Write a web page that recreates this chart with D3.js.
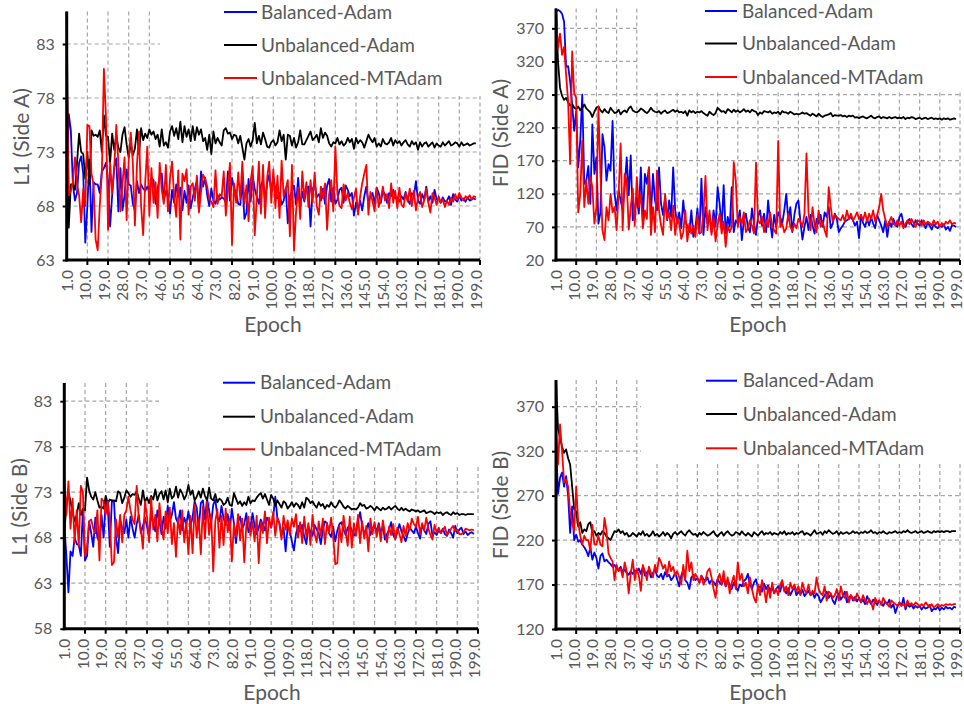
<!DOCTYPE html>
<html><head><meta charset="utf-8">
<script src="https://cdn.jsdelivr.net/npm/d3@7/dist/d3.min.js"></script>
<style>body{margin:0;background:#fff}svg{display:block}text{font-family:Lato,"Open Sans",sans-serif}</style>
</head><body>
<svg id="c" width="964" height="704"></svg>
<script>
// ---------- data ----------
const epochs = d3.range(1, 200);
const xTickValues = d3.range(1, 200, 9);
const xTickLabels = xTickValues.map(d => d.toFixed(1));
const seriesNames = ["Balanced-Adam", "Unbalanced-Adam", "Unbalanced-MTAdam"];
const seriesColors = ["#0000ff", "#000000", "#ff0000"];

const yTicksL1A = [63, 68, 73, 78, 83];
const yTicksFidA = [20, 70, 120, 170, 220, 270, 320, 370];
const yTicksL1B = [58, 63, 68, 73, 78, 83];
const yTicksFidB = [120, 170, 220, 270, 320, 370];

const l1A_bal = [69.5,76.5,75,70,68.5,69.2,72,72.6,71,64.6,
68,72.3,65.6,70.2,70,70,69.2,71.2,71.5,72,
70.3,66.1,69,71.6,72.4,67.5,71.5,67.6,69,71.4,
70,69.9,68.2,67.6,70.3,69.2,70,69.6,69.4,69.8,
69.3,70.6,70.4,68.2,69.6,70.7,71,68.5,69.4,68.8,
67.3,69.5,68.3,70,68.9,69.7,67.6,69.4,68.3,69.9,
67.8,68.8,69.6,70.3,67.6,71.2,69.8,70.6,69,68,
69.6,68.5,68.2,69,68.6,68.8,68.7,68.3,71.2,68.5,
70.6,69.6,69.2,68.2,68.1,70.4,66.8,67.4,70.5,68.4,
70.8,69.6,68.8,68.2,69.9,70.4,68.5,70.1,70.9,69.3,
70.7,69.5,68.7,69.2,68.1,68.5,69.6,66.4,68.9,69.4,
69.9,68.1,70.6,67.9,69.3,68.4,69.6,69.8,66.1,69.5,
70.1,68.8,69.1,68.5,69.6,68.2,69.9,70.5,68.4,69.7,
68.2,68.6,69.5,69.7,68.3,69.9,69.5,68.9,69.2,67.1,
68.3,67.6,68.5,67.6,68.9,69.8,68.3,68.9,69.2,68.2,
69.7,69.2,68.3,69.4,69.1,68.3,69.2,68.9,69.5,68.7,
68.8,68.4,68.9,68.6,69.3,68.6,68.2,69.2,68.9,70.3,
68.5,68.2,69.1,68.6,69.8,68.4,68.9,68.3,69.5,68.6,
68.7,68.3,68.8,68.4,68.5,68.9,68.1,69.1,68.6,68.4,
68.9,68.5,68.7,68.4,68.8,68.5,68.6,68.7,68.6];
const l1A_unbal = [86,66,70,70,69.5,72,74.7,73,72.8,70.5,
73,70,75,74.5,74.6,74.4,75,73,76.4,74.5,
74.4,72,74.7,73.2,74.5,73.4,73,74.6,75.3,73.7,
72.5,73.8,72.7,73.3,75.1,72.8,75.2,74.1,74.7,74.3,
75.1,74.6,74.9,74.2,74.6,73.5,75.1,73.6,73.9,73.4,
74.9,75.4,74.5,75.2,74.2,75.8,73.9,75.4,74.4,75.1,
74,75.4,74.1,75.3,74.6,75.1,74,74.3,73.2,74.6,
72.8,74.9,73.8,74.3,73.9,73.6,75,75.2,74.7,74.8,
74.2,74.6,74.5,73.8,74.5,73.4,72.3,73.8,74.2,73.5,
74.1,75.7,73.8,74.5,73.7,74.8,74.2,73.5,73.4,73.9,
74.1,73.6,73.9,75,74,74.6,72.3,74.6,74.5,73.6,
74.3,73.4,73.9,75,73.7,73.7,74.1,74.5,74.9,74.1,
74.3,74.6,73.9,75.2,74.3,74.8,74.5,73.8,73.5,73.9,
73.8,74.3,73.7,74,73.6,73.8,74.3,73.9,74.2,73.3,
74.3,73.8,74.1,73.9,73.4,74,74.6,74.2,73.9,74.3,
73.5,73.8,73.5,74.2,73.8,73.7,73.9,74.3,73.6,74.1,
73.8,74,73.6,73.9,74.1,73.7,73.5,74,73.7,73.9,
73.2,73.9,73.5,73.8,73.9,73.5,73.7,73.9,73.4,73.8,
73.6,73.5,73.9,73.6,73.8,74,73.6,73.7,73.9,73.8,
73.5,73.9,73.6,73.7,73.8,73.6,73.7,73.8,73.8];
const l1A_mt = [80.8,69,69.4,70.2,72.5,70,69,66.5,69.6,68,
75.5,75.4,71,70,64.9,63.9,68,71,80.7,76.2,
65.8,72,69.2,71.5,75.5,72,67.5,70.1,72.5,66.7,
72.3,74.8,72,66.2,71.8,74.9,68,65.3,70.2,73.5,
67.1,71.5,68.3,70.2,66.9,72,69.5,68.2,71.8,67.5,
70.6,72.1,68.8,67,71.3,64.9,71,70.3,71.4,67.2,
69.8,70.1,68.5,70.8,67.4,69.3,70.9,70.5,69.8,68.6,
68.4,67.9,71.3,68.2,69.1,68.9,71.2,67.1,69.5,72,
64.4,70.1,68.3,71.1,68.6,72.1,68.2,69.9,66.6,70.3,
71.7,65.3,68.8,72.1,67.3,71.8,66.9,70.6,72.1,68.3,
71.4,67.8,70.8,66.9,72.2,68.9,69.6,70.4,65.2,71.8,
63.9,67.5,69.7,66.8,71.2,68.6,70.2,67.9,70.4,68.3,
71.1,68,67.2,69.8,68.7,70.1,65.8,69.1,70.4,67.5,
73.5,69.1,68,67.8,70,68.5,69.2,68.3,67.7,68.8,
69.6,67.2,68.9,70.1,71,71.8,67.2,69.3,68.4,67.5,
69.7,67.9,68.6,69.8,68.5,69.1,67.8,70.1,68.3,69.4,
67.8,69.7,68.1,67.9,69.2,68.4,69.6,68,69.4,67.6,
68.8,69.3,67.9,68.5,69.6,68.3,67.4,69.2,68.8,68.1,
68.9,68.3,68.6,67.9,68.5,68.1,68.8,68.4,69.1,68.6,
69.2,68.8,68.5,68.9,68.7,69,68.6,68.9,68.8];

const fidA_bal = [395,398,396,392,380,312,313,290,255,215,
245,160,200,270,135,140,162,105,225,150,
175,75,92,210,190,140,165,155,230,120,
95,125,110,95,130,175,118,178,80,95,
115,90,160,80,150,135,160,88,150,110,
95,160,105,88,115,80,110,85,160,95,
75,92,68,110,78,72,62,95,55,68,
98,60,143,58,100,75,88,62,95,70,
130,105,68,133,60,85,70,130,62,80,
75,95,50,80,90,70,62,98,75,58,
85,95,72,90,62,110,78,54,88,70,
92,85,75,95,120,80,100,62,88,105,
110,78,51,70,85,65,88,72,60,82,
75,88,70,92,85,100,68,75,90,82,
62,68,72,78,80,82,85,80,72,78,
53,88,76,70,82,72,85,75,68,88,
80,72,62,80,55,78,70,82,74,70,
85,90,75,70,78,82,74,70,80,75,
72,80,74,68,76,72,66,74,70,68,
72,70,74,66,70,64,72,72,70];
const fidA_unbal = [400,320,280,268,262,265,258,253,256,250,
248,252,246,250,255,249,246,243,236,244,
250,252,246,243,248,244,242,250,246,242,
243,247,240,244,246,243,249,252,246,244,
243,245,249,247,244,242,245,250,246,244,
243,245,241,244,246,242,243,245,247,244,
246,243,244,242,245,238,246,243,245,242,
244,243,245,242,240,238,244,241,239,242,
250,247,244,245,242,248,246,243,247,244,
246,243,245,248,244,246,243,247,245,244,
239,243,241,245,244,243,245,241,243,242,
244,240,245,243,243,241,244,242,240,241,
240,241,243,241,242,240,238,241,239,237,
241,238,236,238,239,240,242,237,239,238,
238,239,237,238,236,238,237,238,235,236,
234,236,237,235,234,236,238,235,234,236,
237,234,236,235,234,236,234,235,236,234,
235,234,236,233,235,234,236,235,233,234,
235,233,234,235,233,234,235,233,234,233,
234,232,234,233,234,232,233,234,233];
const fidA_mt = [396,340,362,330,342,300,260,165,335,272,
265,92,120,200,100,140,105,146,130,75,
100,252,150,65,50,100,80,120,92,100,
65,120,196,65,150,140,66,100,128,72,
145,100,120,68,95,82,160,58,100,62,
155,95,72,58,120,82,92,65,102,58,
85,75,52,62,95,48,75,60,72,55,
88,60,62,92,147,65,95,58,85,48,
72,90,60,78,40,72,62,70,168,140,
70,85,75,92,62,68,80,72,60,167,
80,75,85,62,80,70,92,72,65,60,
200,70,75,62,68,90,70,64,75,68,
82,78,70,90,181,92,65,100,72,62,
95,70,78,65,55,130,100,78,88,85,
82,80,88,78,95,82,90,80,85,92,
82,88,80,92,78,90,82,95,78,88,
100,120,95,82,70,78,85,75,72,80,
72,78,68,75,80,74,82,76,70,80,
78,72,80,74,78,76,72,80,74,78,
70,76,72,78,75,80,74,76,75];

const l1B_bal = [69.5,66,62,66.5,66,68,67.3,67.2,66,71,
65.5,66,69.8,68.5,67,70.2,68,67.5,70.5,68,
72,71.5,67,72,72,68,66.3,70,69,68.5,
70,68,70.3,69,68,69.5,70.5,68.5,69.3,70.2,
69.2,68,70.8,69.5,68.7,71,69.8,68.4,70.3,69,
71.5,69.8,70.5,71.9,70.1,69.6,71,68.8,70.2,69.5,
70.9,69.3,70.2,72,71.3,69,71.8,72.1,70,72.3,
71,69.6,71.6,72.2,70.3,69.8,71.5,70.1,69.4,70.6,
68.8,71.2,69.6,67.4,69.8,70.3,69,69.5,70.7,68.6,
69.2,70.7,69.3,68.4,69.1,70,69.4,68.8,70.2,69.8,
69.1,70.3,72.5,70.2,69.6,68.3,69.1,66.5,69.3,68.8,
67.6,66.6,68.4,69.3,68.7,69.4,68.1,67.3,69.2,68.7,
68.2,69.4,68.9,68.5,67.3,68.9,69.8,69.6,68.5,68.1,
69.2,67.6,68.8,69.5,69.7,68.9,68.3,69.1,69.4,68.8,
68.2,68.6,69.9,70.8,69.3,68.5,68.9,69.6,68.3,69,
69.4,68.6,69.6,68.5,69.3,67.8,68.4,68.9,69.7,68.3,
67.9,68.6,69.5,68.7,68.2,67.6,68.4,69.1,68.8,68.5,
69.2,68.5,67.9,69.4,68.8,68.4,69.5,69.8,68.2,68.6,
68.3,68.8,68.5,69,68.4,68.2,68.9,68.5,68,69.3,
68.5,68.9,69.1,68.4,68.7,68.3,68.5,68.6,68.4];
const l1B_unbal = [68.5,71.5,73,72,70.8,69.8,70.5,71.8,70.5,71.2,
71,74.6,73.2,72.5,72.2,73,72.1,71.3,71.4,71.2,
72.6,71.8,72.2,72.1,72.1,72,73.1,72.9,71.8,72.4,
73.2,72.9,72.5,72.8,72.7,73.1,72.3,71.6,73.2,71.9,
72.4,71.8,72.6,72.2,73.3,72.1,72.8,73.1,72.2,73.2,
71.9,73.4,72.3,72.6,73.6,72.4,73.3,72.9,72.2,72.7,
73.8,72.7,73.2,72.1,72.5,73.1,72.4,73.4,72.6,72.1,
73.5,72.3,72.1,72.8,71.9,72.3,72.1,71.6,71.8,72.4,
71.6,71.5,72.9,72.3,71.7,72,71.5,71.9,71.6,72.5,
71.8,72.1,72,72.4,72.7,72.9,72.3,72.8,72.2,71.6,
72.7,72.3,71.5,72.1,71.7,71.3,72,71.8,71.2,71.5,
71.9,71.4,71.8,71.6,71.2,71.9,71.3,72.4,72.2,71.8,
72,71.6,71.3,71.9,71.5,71.7,71.2,71.6,71.4,71.9,
71.5,71.3,71.6,72.1,71.8,71.4,71.2,71.5,71.3,71.1,
71.2,71.1,71.3,71.8,71.5,71.6,71.2,71.3,71.5,71.3,
71,71.4,71.2,71,71.3,71.1,71.2,71.4,71.1,71.3,
71.5,71.2,71,71.3,71,71.2,71,70.9,71.1,71,
70.9,71,70.8,70.9,71,70.7,70.8,70.9,70.8,70.6,
70.8,70.7,70.8,70.5,70.7,70.8,70.6,70.5,70.8,70.6,
70.7,70.5,70.6,70.6,70.5,70.6,70.6,70.6,70.6];
const l1B_mt = [74.6,70.5,74.2,69,72.3,67.5,71,67,73.7,73,
66,67,69.8,70,69,68.5,71,65.5,72.3,72,
70.5,72,70,65,65.3,70,68,70.5,67.5,70.5,
71,72.5,71,70,69.5,73.7,70,69,66.8,72,
70.3,67.5,72.4,68.9,70.5,67.6,71.8,69.2,67.8,70.9,
68.5,71.3,67.3,69.6,65.9,70.2,68.4,71,67.5,69.8,
66.2,70.4,66.3,71.6,68,70.1,66.2,71.4,67.9,71.9,
68.3,70.5,64.3,69.8,71.1,66.9,70.4,67.2,71.2,68.6,
70.1,65.4,69.5,68.1,70.6,67.7,70.1,65.3,69.4,70.3,
68.2,69.8,67.6,70.4,65.2,69.7,68.5,70.9,67.4,70.2,
69.1,70.8,68.2,70.2,69.5,67.8,70.4,68.9,69.9,68.3,
70.1,69.2,70.6,68,69.7,67.4,70.3,68.1,69.6,67.2,
70.5,68.4,67.5,69.8,68.2,70.1,67.3,69.6,68.5,70.2,
68.1,65.1,65.2,69.3,67.5,70.4,68.7,67.1,70.3,66.9,
69.6,68.2,70.5,67.4,69.8,67.9,69.3,66.5,70.1,68.4,
69.7,68.1,69.4,67.6,69.9,68.5,67.5,69.2,68.3,69.5,
67.8,69.1,68.4,67.5,69.3,68.2,69.6,68.8,70.1,69.5,
69.2,70.3,68.4,69.6,68.8,70.2,69,68.3,67.8,69.4,
68.6,69.1,68.5,68.8,69.2,68.3,68.6,69,69.3,68.7,
68.9,68.4,68.4,68.6,69,68.9,68.8,68.9,68.8];

const fidB_bal = [330,272,290,296,280,292,270,228,258,220,
226,218,220,215,212,208,202,212,198,206,
200,188,202,205,196,198,195,193,190,192,
188,186,190,184,187,183,181,185,182,186,
184,188,182,190,180,184,186,178,183,187,
180,178,182,176,184,179,181,175,178,183,
176,168,180,186,175,172,165,178,181,175,
177,172,180,176,174,178,171,175,173,169,
176,172,170,177,168,174,170,165,172,168,
163,170,168,174,176,182,170,165,172,176,
166,168,162,171,165,169,163,167,160,165,
168,162,172,164,160,166,158,163,168,158,
162,159,164,157,160,163,158,161,155,160,
157,150,154,158,162,155,159,152,148,156,
160,153,157,162,150,155,158,152,156,151,
155,150,153,148,157,152,148,153,150,147,
152,149,146,151,148,153,144,148,138,145,
150,146,155,142,148,145,147,143,146,144,
146,142,145,143,144,147,140,143,142,145,
141,144,142,145,143,144,142,145,144];
const fidB_unbal = [400,345,335,325,318,322,312,305,280,255,
252,235,240,228,232,230,238,240,228,230,
225,228,226,230,228,224,222,220,225,230,
229,232,228,230,226,228,224,225,228,226,
224,228,226,230,225,227,224,226,230,225,
227,224,226,229,225,228,226,222,227,229,
226,228,230,227,225,229,231,228,226,227,
224,228,226,229,227,225,226,228,230,226,
224,227,229,225,228,230,227,225,226,229,
228,226,230,227,225,228,226,224,229,227,
225,228,230,226,228,227,229,226,228,227,
226,229,227,230,226,228,227,229,226,228,
227,229,230,226,228,227,225,228,231,227,
228,229,226,230,228,231,229,227,228,230,
226,229,227,228,229,227,228,230,228,229,
227,229,228,230,228,229,231,228,229,227,
229,228,230,228,227,229,228,229,230,228,
229,228,230,229,231,229,228,229,230,228,
229,230,228,229,230,229,228,230,229,230,
229,230,229,230,230,229,230,230,230];
const fidB_mt = [345,305,350,320,285,288,280,250,240,230,
280,240,225,215,225,220,220,208,237,215,
215,225,215,213,245,230,205,200,196,175,
192,185,188,178,195,185,160,182,198,175,
188,180,163,192,185,175,190,183,178,192,
184,200,195,188,192,180,196,185,190,180,
185,178,170,192,176,208,185,195,175,182,
178,172,180,170,175,185,188,178,165,155,
176,182,170,185,168,178,160,172,180,165,
195,175,182,168,172,160,178,165,155,150,
170,158,175,165,150,168,155,172,160,165,
158,170,175,162,168,158,172,165,170,162,
168,158,172,164,160,170,158,163,160,178,
165,160,158,168,152,162,160,155,158,165,
152,168,158,155,162,150,158,155,152,160,
155,150,158,152,148,154,150,142,155,150,
152,147,155,150,148,145,152,150,148,146,
150,146,148,145,152,147,149,146,150,148,
145,148,146,150,147,145,148,144,146,148,
145,147,146,148,147,148,147,148,148];

// ---------- layout ----------
const panels = [
  {yTitle:"L1 (Side A)", series:[l1A_bal,l1A_unbal,l1A_mt], domain:[63,86], ticks:yTicksL1A,
   x0:66.7, x1:480, yb:260, yt:11.6, legLeft:160, legBottom:96, legLine:[224,257], legText:261, legRows:[12,45,78],
   xTitle:[273,325], yTitlePos:[22,137]},
  {yTitle:"FID (Side A)", series:[fidA_bal,fidA_unbal,fidA_mt], domain:[20,400], ticks:yTicksFidA,
   x0:556, x1:960, yb:260, yt:8.5, legLeft:640, legBottom:92, legLine:[705,737], legText:742, legRows:[11,43.5,77],
   xTitle:[758,325], yTitlePos:[501,133]},
  {yTitle:"L1 (Side B)", series:[l1B_bal,l1B_unbal,l1B_mt], domain:[58,85], ticks:yTicksL1B,
   x0:64.3, x1:478, yb:628.7, yt:383, legLeft:159, legBottom:466, legLine:[223,255], legText:260, legRows:[382.7,416.7,449.3],
   xTitle:[272,693], yTitlePos:[20,507]},
  {yTitle:"FID (Side B)", series:[fidB_bal,fidB_unbal,fidB_mt], domain:[120,400], ticks:yTicksFidB,
   x0:556, x1:960, yb:629, yt:380, legLeft:641, legBottom:464, legLine:[706,737], legText:742.7, legRows:[380.7,414,448.3],
   xTitle:[758,693], yTitlePos:[501,505]}
];

const svg = d3.select("#c");
const gridColor = "#a6a6a6", textColor = "#595959";

panels.forEach(p => {
  const g = svg.append("g");
  const x = d3.scaleLinear().domain([1, 201]).range([p.x0, p.x1]);
  const y = d3.scaleLinear().domain(p.domain).range([p.yb, p.yt]);
  const vGrid = d3.range(11, 202, 10);

  // gridlines
  g.append("g").selectAll("line").data(vGrid).join("line")
    .attr("x1", d => x(d)).attr("x2", d => x(d)).attr("y1", y(p.domain[1])).attr("y2", p.yb)
    .attr("stroke", gridColor).attr("stroke-width", 1.2).attr("stroke-dasharray", "4,3");
  g.append("g").selectAll("line").data(p.ticks.slice(1)).join("line")
    .attr("x1", p.x0).attr("x2", p.x1).attr("y1", d => y(d)).attr("y2", d => y(d))
    .attr("stroke", gridColor).attr("stroke-width", 1.2).attr("stroke-dasharray", "4,3");

  // legend background (hides gridlines)
  g.append("rect").attr("x", p.legLeft).attr("y", p.yt - 12)
    .attr("width", p.x1 - p.legLeft + 5).attr("height", p.legBottom - p.yt + 12).attr("fill", "#fff");

  // y axis
  const yAxis = d3.axisLeft(y).tickValues(p.ticks).tickSize(4).tickPadding(8).tickFormat(d3.format("d"));
  const ya = g.append("g").attr("transform", `translate(${p.x0},0)`).call(yAxis);
  ya.select(".domain").remove();
  ya.selectAll(".tick line").attr("stroke", "#000").attr("stroke-width", 2);
  ya.selectAll(".tick text").attr("fill", textColor).style("font-size", "16px");

  // x axis labels
  const xAxis = d3.axisBottom(x).tickValues(xTickValues).tickSize(0).tickFormat((d, i) => xTickLabels[i]);
  const xa = g.append("g").attr("transform", `translate(0,${p.yb})`).call(xAxis);
  xa.select(".domain").remove();
  xa.selectAll(".tick text").attr("fill", textColor).style("font-size", "15.5px")
    .attr("transform", "rotate(-90)").attr("text-anchor", "end").attr("dy", "0.35em")
    .attr("x", -10).attr("y", 0);
  // x tick marks at gridline positions
  g.append("g").selectAll("line").data(vGrid).join("line")
    .attr("x1", d => x(d)).attr("x2", d => x(d)).attr("y1", p.yb).attr("y2", p.yb + 5)
    .attr("stroke", "#000").attr("stroke-width", 2);

  // series
  const line = d3.line().x((d, i) => x(epochs[i])).y(d => y(d));
  p.series.forEach((s, k) => {
    g.append("path").datum(s).attr("d", line).attr("fill", "none")
      .attr("stroke", seriesColors[k]).attr("stroke-width", 1.8).attr("stroke-linejoin", "round");
  });

  // axis lines
  g.append("line").attr("x1", p.x0).attr("x2", p.x0).attr("y1", y(p.domain[1])).attr("y2", p.yb + 1.5)
    .attr("stroke", "#000").attr("stroke-width", 3);
  g.append("line").attr("x1", p.x0 - 1.5).attr("x2", p.x1).attr("y1", p.yb).attr("y2", p.yb)
    .attr("stroke", "#000").attr("stroke-width", 3);

  // legend
  seriesNames.forEach((n, k) => {
    g.append("line").attr("x1", p.legLine[0]).attr("x2", p.legLine[1])
      .attr("y1", p.legRows[k]).attr("y2", p.legRows[k])
      .attr("stroke", seriesColors[k]).attr("stroke-width", 2);
    g.append("text").attr("x", p.legText).attr("y", p.legRows[k]).attr("dy", "0.35em")
      .attr("fill", textColor).style("font-size", "19px").text(n);
  });

  // titles
  g.append("text").attr("x", p.xTitle[0]).attr("y", p.xTitle[1]).attr("dy", "0.35em")
    .attr("text-anchor", "middle").attr("fill", textColor).style("font-size", "21px").text("Epoch");
  g.append("text").attr("transform", `translate(${p.yTitlePos[0]},${p.yTitlePos[1]}) rotate(-90)`)
    .attr("dy", "0.35em").attr("text-anchor", "middle").attr("fill", textColor)
    .style("font-size", "21px").text(p.yTitle);
});
</script>
</body></html>
